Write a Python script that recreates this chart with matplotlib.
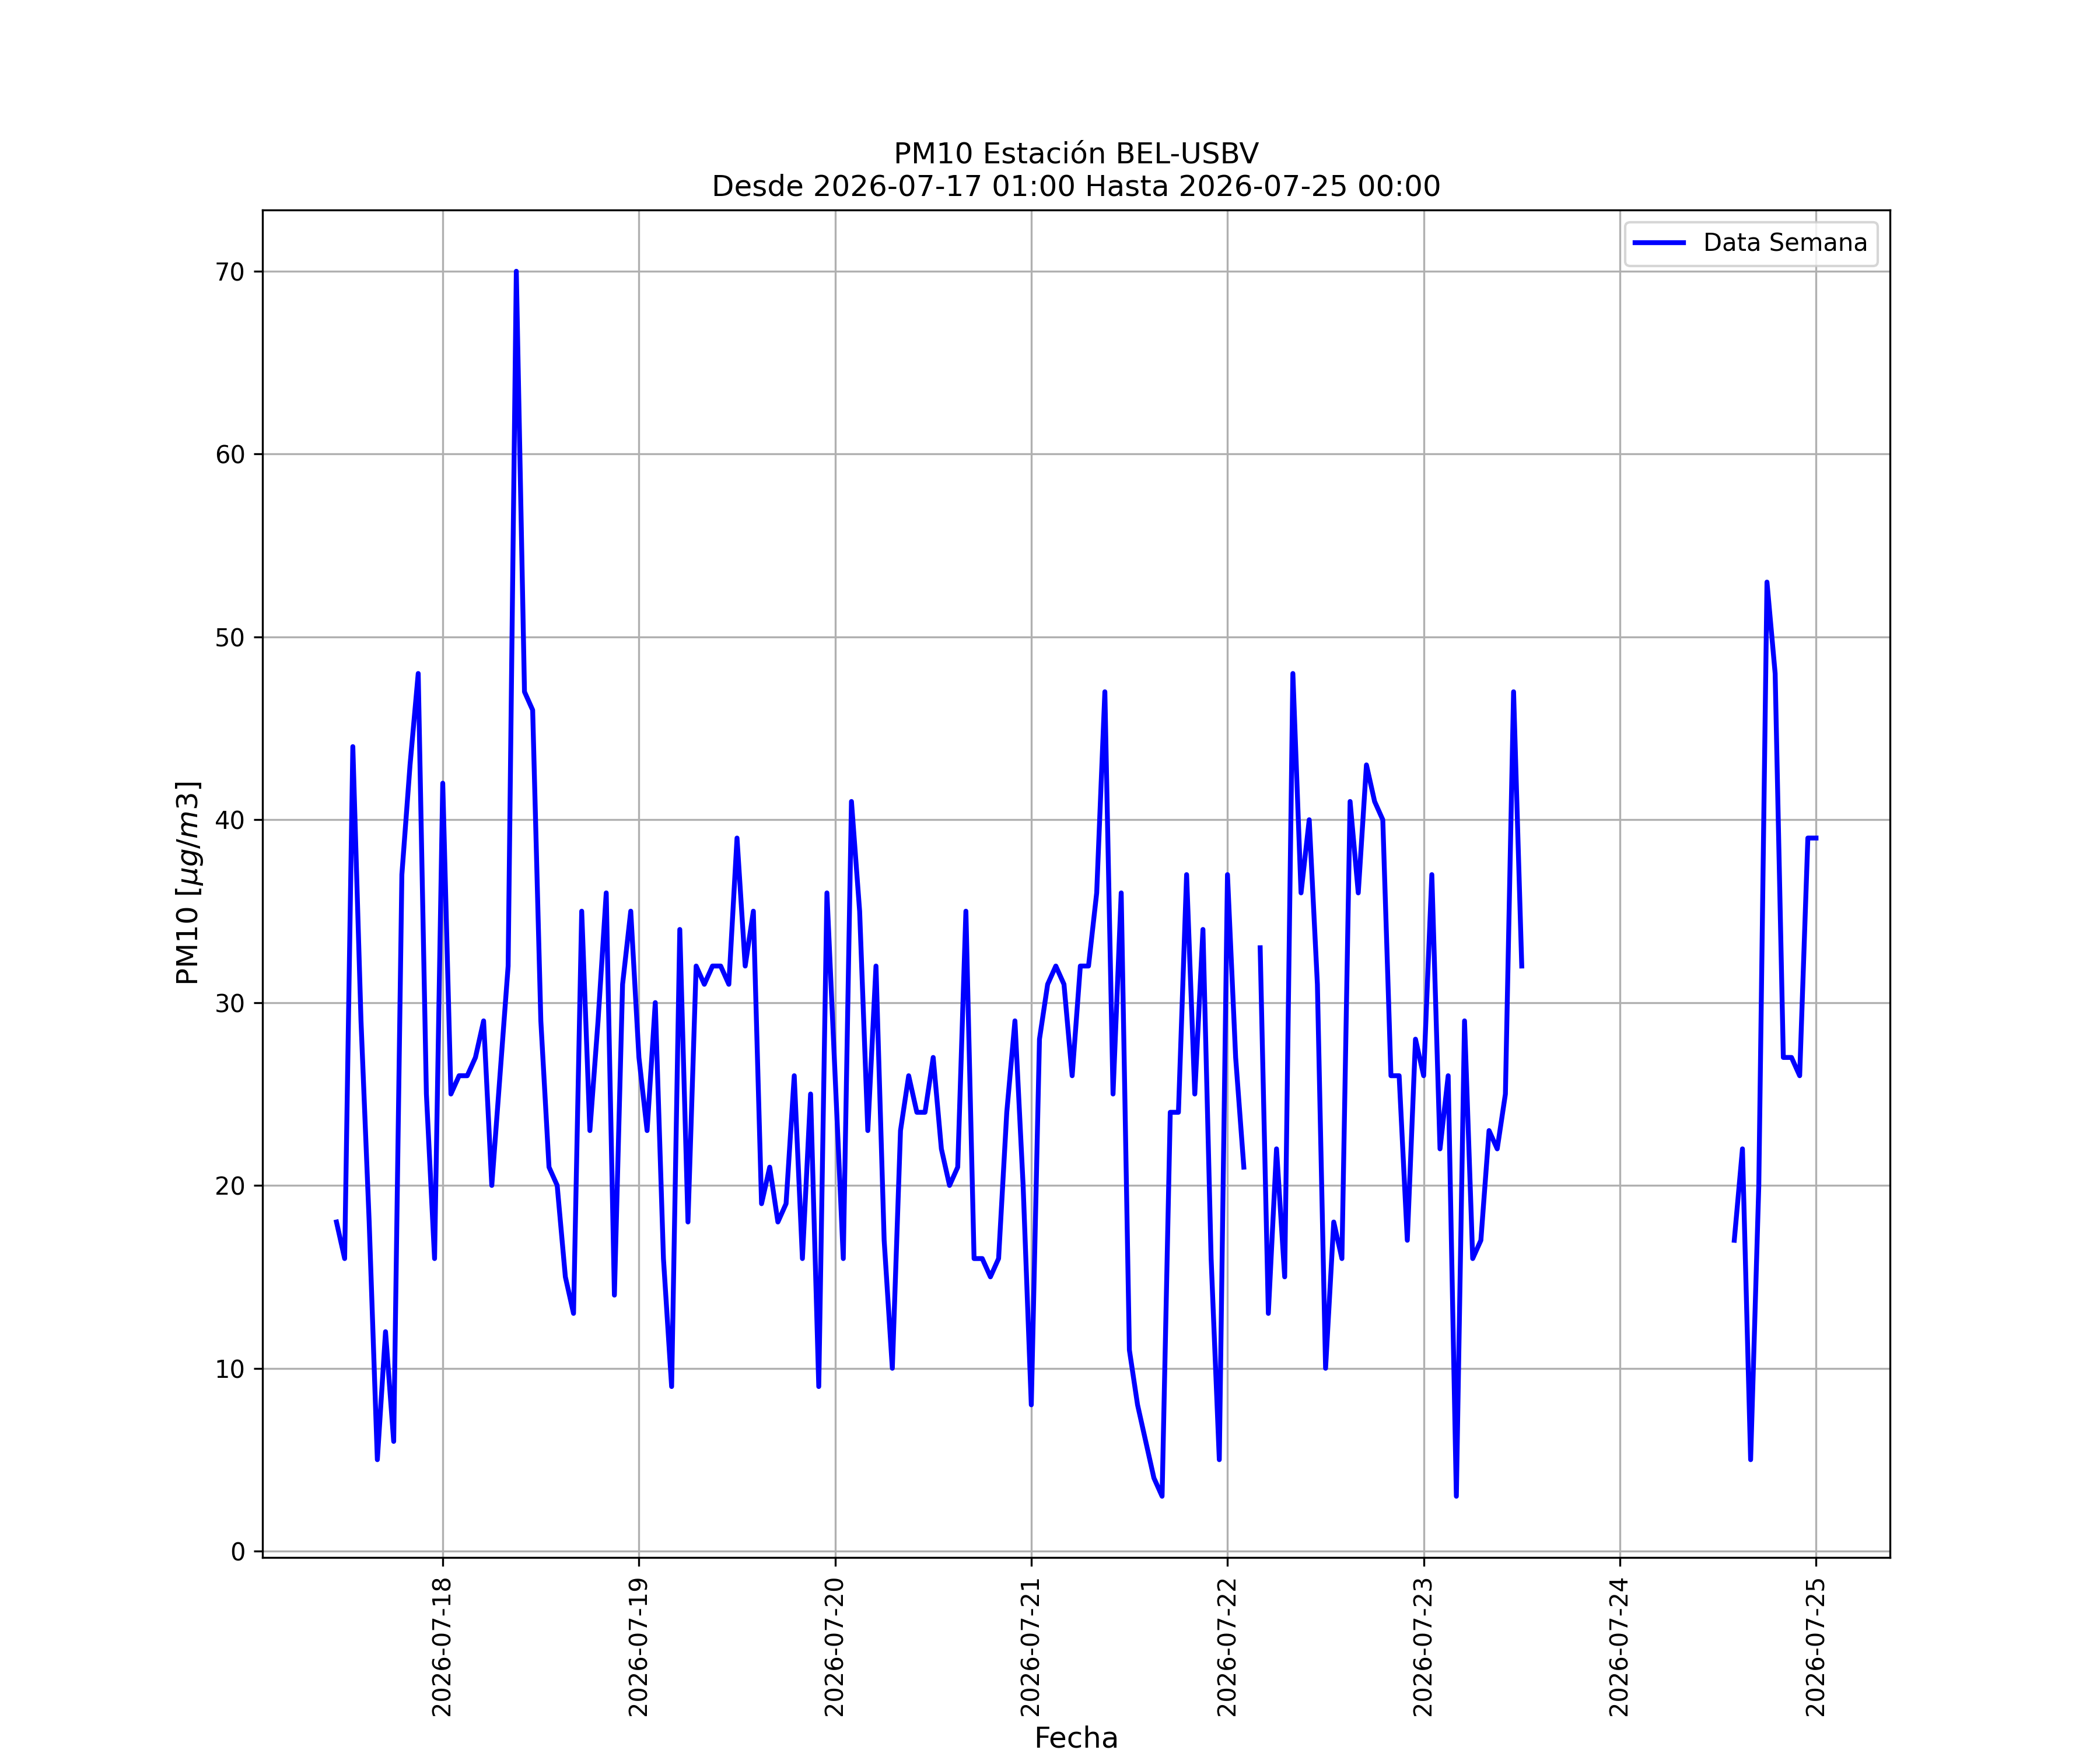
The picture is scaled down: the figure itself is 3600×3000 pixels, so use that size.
import numpy as np
import pandas as pd
import matplotlib
matplotlib.use('Agg')
import matplotlib.pyplot as plt
import matplotlib.dates as mdates

nan = np.nan

# PM10 horario, desde 2026-07-17 11:00
dia_17 = [18, 16, 44, 29, 18, 5, 12, 6, 37, 43, 48, 25, 16]
dia_18 = [42, 25, 26, 26, 27, 29, 20, 26, 32, 70, 47, 46,
          29, 21, 20, 15, 13, 35, 23, 29, 36, 14, 31, 35]
dia_19 = [27, 23, 30, 16, 9, 34, 18, 32, 31, 32, 32, 31,
          39, 32, 35, 19, 21, 18, 19, 26, 16, 25, 9, 36]
dia_20 = [26, 16, 41, 35, 23, 32, 17, 10, 23, 26, 24, 24,
          27, 22, 20, 21, 35, 16, 16, 15, 16, 24, 29, 20]
dia_21 = [8, 28, 31, 32, 31, 26, 32, 32, 36, 47, 25, 36,
          11, 8, 6, 4, 3, 24, 24, 37, 25, 34, 16, 5]
dia_22 = [37, 27, 21, nan, 33, 13, 22, 15, 48, 36, 40, 31,
          10, 18, 16, 41, 36, 43, 41, 40, 26, 26, 17, 28]
dia_23 = [26, 37, 22, 26, 3, 29, 16, 17, 23, 22, 25, 47, 32] + [nan] * 11
dia_24 = [nan] * 14 + [17, 22, 5, 20, 53, 48, 27, 27, 26, 39]
dia_25 = [39]

valores = np.array(dia_17 + dia_18 + dia_19 + dia_20 + dia_21 + dia_22 +
                   dia_23 + dia_24 + dia_25, dtype=float)
fechas = pd.date_range('2026-07-17 11:00', '2026-07-25 00:00', freq='h')

estacion = 'BEL-USBV'
desde = '2026-07-17 01:00'
hasta = '2026-07-25 00:00'

fig, ax = plt.subplots(figsize=(12, 10))
ax.plot(fechas, valores, color='blue', linewidth=2, label='Data Semana')

ax.set_title('PM10 Estación ' + estacion + '\nDesde ' + desde + ' Hasta ' + hasta,
             fontsize=12)
ax.set_xlabel('Fecha', fontsize=12)
ax.set_ylabel(r'PM10 [$\mu g/m3$]', fontsize=12)

ax.xaxis.set_major_locator(mdates.DayLocator())
ax.xaxis.set_major_formatter(mdates.DateFormatter('%Y-%m-%d'))
plt.setp(ax.get_xticklabels(), rotation=90)

ax.grid(True)
ax.legend(loc='upper right')

fig.savefig('out.png', dpi=300)
